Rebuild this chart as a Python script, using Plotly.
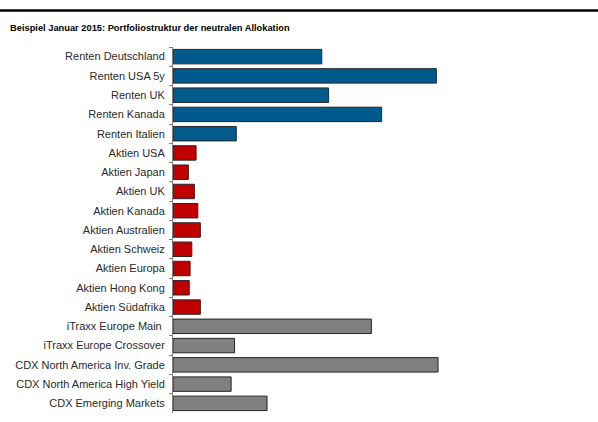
import plotly.graph_objects as go

categories = [
    "Renten Deutschland", "Renten USA 5y", "Renten UK", "Renten Kanada", "Renten Italien",
    "Aktien USA", "Aktien Japan", "Aktien UK", "Aktien Kanada", "Aktien Australien",
    "Aktien Schweiz", "Aktien Europa", "Aktien Hong Kong", "Aktien Südafrika",
    "iTraxx Europe Main ", "iTraxx Europe Crossover", "CDX North America Inv. Grade",
    "CDX North America High Yield", "CDX Emerging Markets",
]
values = [8.7, 15.4, 9.1, 12.2, 3.7,
          1.35, 0.9, 1.25, 1.45, 1.6, 1.1, 1.0, 0.95, 1.6,
          11.6, 3.6, 15.5, 3.4, 5.5]
groups = ["Renten"] * 5 + ["Aktien"] * 9 + ["Kredit"] * 5
group_colors = {"Renten": "#005A8C", "Aktien": "#C00000", "Kredit": "#808080"}
title_text = "Beispiel Januar 2015: Portfoliostruktur der neutralen Allokation"

W, H = 598, 422
left, top, bottom = 173, 47, 9
plot_w = 400
px_per_unit = 17.1
xmax = plot_w / px_per_unit
plot_h = H - top - bottom

fig = go.Figure(go.Bar(
    y=categories, x=values, orientation="h",
    marker=dict(color=[group_colors[g] for g in groups],
                line=dict(color="#262626", width=1)),
    hoverinfo="x+y",
))

fig.update_layout(
    width=W, height=H,
    margin=dict(l=left, r=W - left - plot_w, t=top, b=bottom, pad=0),
    paper_bgcolor="white", plot_bgcolor="white",
    bargap=0.25,
    showlegend=False,
    font=dict(family="Liberation Sans, Arial, sans-serif", size=11, color="#1a1a1a"),
    title=dict(text="<b>" + title_text + "</b>", x=10 / W, xref="container", xanchor="left",
               y=1 - 27.5 / H, yref="container", yanchor="middle",
               font=dict(size=9.3, color="#000000", family="Liberation Sans, Arial, sans-serif")),
    xaxis=dict(range=[0, xmax], visible=False, fixedrange=True),
    yaxis=dict(autorange="reversed", showline=True, linecolor="#7f7f7f", linewidth=1,
               ticks="outside", ticklen=3, tickcolor="#7f7f7f", tickson="boundaries",
               showgrid=False, tickfont=dict(size=11, color="#2a2a2a"), ticklabelstandoff=5),
    shapes=[dict(type="line", xref="paper", yref="paper",
                 x0=-left / plot_w, x1=(W - left) / plot_w,
                 y0=1 + (top - 10.5) / plot_h, y1=1 + (top - 10.5) / plot_h,
                 line=dict(color="#000000", width=2.5))],
)

fig.write_html("out.html")
